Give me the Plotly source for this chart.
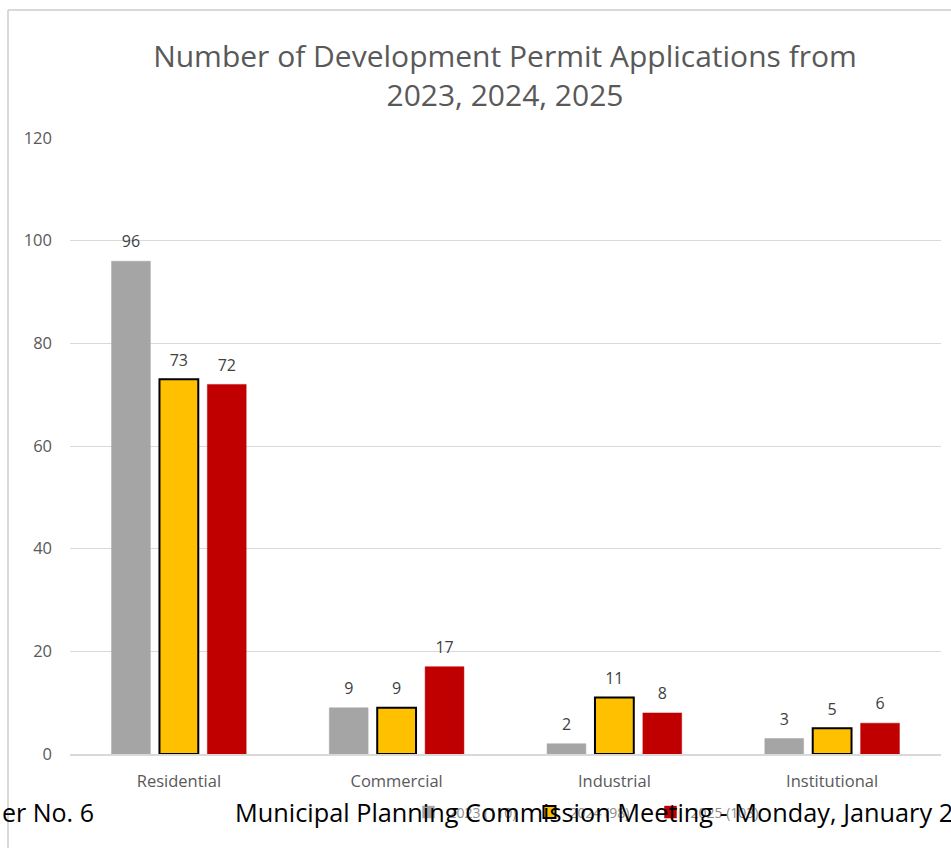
import plotly.graph_objects as go

categories = ["Residential", "Commercial", "Industrial", "Institutional"]
series_names = ["2023 (110)", "2024 (98)", "2025 (103)"]
values_2023 = [96, 9, 2, 3]
values_2024 = [73, 9, 11, 5]
values_2025 = [72, 17, 8, 6]
y_ticks = [0, 20, 40, 60, 80, 100, 120]

colors = ["#a5a5a5", "#ffc000", "#c00000"]
outline_colors = ["#a5a5a5", "#000000", "#c00000"]
outline_widths = [0.5, 2, 0.5]

FONT = "Open Sans, Noto Sans, sans-serif"
BARGAP = 0.34

fig = go.Figure()
all_values = [values_2023, values_2024, values_2025]
for i, (name, vals) in enumerate(zip(series_names, all_values)):
    fig.add_trace(go.Bar(
        x=categories, y=vals, name=name,
        offsetgroup=str(i), alignmentgroup="a",
        marker=dict(color=colors[i], line=dict(color=outline_colors[i], width=outline_widths[i])),
        hoverinfo="x+y+name",
    ))
# value labels sitting above each bar
for i, vals in enumerate(all_values):
    fig.add_trace(go.Scatter(
        x=categories, y=vals, mode="markers+text",
        offsetgroup=str(i), alignmentgroup="a",
        text=[str(v) for v in vals], textposition="top center",
        textfont=dict(family=FONT, size=16, color="#404040"),
        marker=dict(size=14, opacity=0),
        showlegend=False, hoverinfo="skip", cliponaxis=False,
    ))

fig.update_layout(
    width=951, height=848,
    paper_bgcolor="white", plot_bgcolor="white",
    barmode="group", bargap=BARGAP, bargroupgap=0.19,
    scattermode="group", scattergap=BARGAP,
    margin=dict(l=70, r=10, t=138, b=94),
    font=dict(family=FONT, color="#595959"),
    title=dict(
        text="Number of Development Permit Applications from<br>2023, 2024, 2025",
        x=0.531, xanchor="center", y=0.921, yanchor="middle",
        font=dict(family=FONT, size=30, color="#595959"),
    ),
    xaxis=dict(
        showgrid=False, showline=True, linecolor="#d9d9d9", linewidth=1.5,
        tickfont=dict(family=FONT, size=16.5, color="#595959"),
        ticks="", ticklabelstandoff=11,
    ),
    yaxis=dict(
        range=[0, 120], tickvals=y_ticks, showgrid=True, gridcolor="#d9d9d9",
        gridwidth=1.3, zeroline=False, showline=False, ticks="",
        tickfont=dict(family=FONT, size=16.5, color="#595959"),
        ticklabelstandoff=17,
    ),
    legend=dict(
        orientation="h", x=0.597, xanchor="center", y=-0.095, yanchor="middle",
        font=dict(family=FONT, size=14, color="#8c8c8c"),
        bgcolor="rgba(0,0,0,0)", itemwidth=30, traceorder="normal",
        entrywidth=76, entrywidthmode="pixels",
    ),
    shapes=[
        dict(type="line", xref="paper", yref="paper", x0=-0.0712, x1=1.05, y0=1.2078, y1=1.2078,
             line=dict(color="#d9d9d9", width=2)),
        dict(type="line", xref="paper", yref="paper", x0=-0.0712, x1=-0.0712, y0=1.2078, y1=-0.2,
             line=dict(color="#d9d9d9", width=2)),
    ],
    annotations=[
        dict(text="er No. 6", xref="paper", yref="paper", x=-0.0804, xanchor="left",
             y=-0.094, yanchor="middle", showarrow=False,
             font=dict(family=FONT, size=25, color="#000000")),
        dict(text="Municipal Planning Commission Meeting - Monday, January 2", xref="paper",
             yref="paper", x=0.187, xanchor="left", y=-0.094, yanchor="middle",
             showarrow=False, font=dict(family=FONT, size=25.3, color="#000000")),
    ],
)

fig.write_html("out.html")
